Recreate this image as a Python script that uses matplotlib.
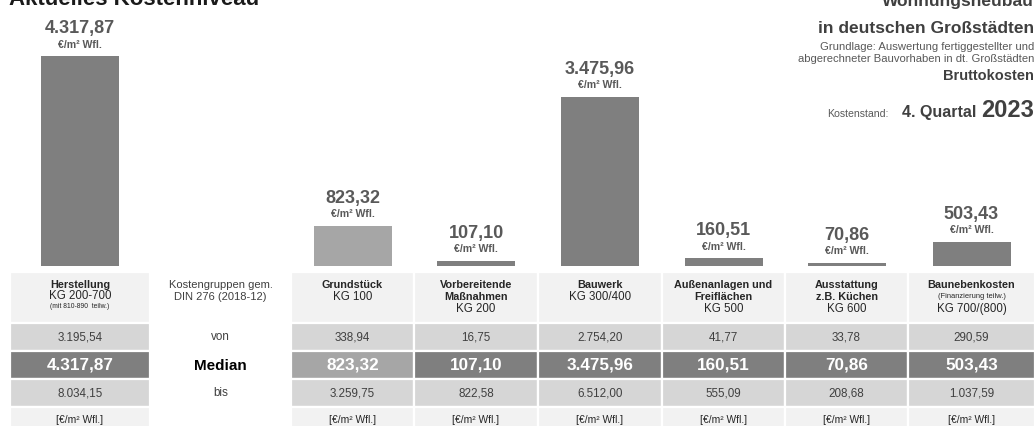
import matplotlib
matplotlib.use("Agg")
import matplotlib.pyplot as plt
from matplotlib.patches import Rectangle

plt.rcParams["font.family"] = ["Liberation Sans", "DejaVu Sans"]

# --- data -------------------------------------------------------------
categories = ["Herstellung", "Grundstück", "Vorbereitende Maßnahmen", "Bauwerk",
              "Außenanlagen und Freiflächen", "Ausstattung", "Baunebenkosten"]
median_vals = [4317.87, 823.32, 107.10, 3475.96, 160.51, 70.86, 503.43]
von_vals = [3195.54, 338.94, 16.75, 2754.20, 41.77, 33.78, 290.59]
bis_vals = [8034.15, 3259.75, 822.58, 6512.00, 555.09, 208.68, 1037.59]

header_text = [
    [("Herstellung", "bold", 7.8), ("KG 200-700", "normal", 8.3), ("(mit 810-890  teilw.)", "normal", 4.9)],
    [("Grundstück", "bold", 7.8), ("KG 100", "normal", 8.3)],
    [("Vorbereitende", "bold", 7.8), ("Maßnahmen", "bold", 7.8), ("KG 200", "normal", 8.3)],
    [("Bauwerk", "bold", 7.8), ("KG 300/400", "normal", 8.3)],
    [("Außenanlagen und", "bold", 7.8), ("Freiflächen", "bold", 7.8), ("KG 500", "normal", 8.3)],
    [("Ausstattung", "bold", 7.8), ("z.B. Küchen", "bold", 7.8), ("KG 600", "normal", 8.3)],
    [("Baunebenkosten", "bold", 7.8), ("(Finanzierung teilw.)", "normal", 5.4), ("KG 700/(800)", "normal", 8.3)],
]
label_col = ["von", "Median", "bis"]


def fmt(v):
    s = f"{v:,.2f}"
    return s.replace(",", "X").replace(".", ",").replace("X", ".")


# --- layout (pixels) --------------------------------------------------
W, H = 1036, 426
col_edges = [10, 150, 291, 414, 538, 662, 785, 908, 1035]
data_cols = [0, 2, 3, 4, 5, 6, 7]
row_edges = [272, 322.5, 350.5, 378.5, 406.5, 430]
baseline = 266
px_per_unit = 210 / 4317.87

dark = "#7f7f7f"
light_bar = "#a6a6a6"
bar_colors = [dark, light_bar, dark, dark, dark, dark, dark]
median_bg = [dark, light_bar, dark, dark, dark, dark, dark]
head_bg = "#f2f2f2"
range_bg = "#d6d6d6"
txt = "#262626"
num_grey = "#595959"

fig = plt.figure(figsize=(W / 100, H / 100), dpi=100, facecolor="white")

# pixel-space axes for table and texts
ax = fig.add_axes([0, 0, 1, 1])
ax.set_xlim(0, W)
ax.set_ylim(H, 0)
ax.axis("off")

# bar axes, value space
bx = fig.add_axes([0, (H - baseline) / H, 1, baseline / H])
bx.set_xlim(0, W)
bx.set_ylim(0, baseline / px_per_unit)
bx.axis("off")
bx.patch.set_alpha(0)

centers = [(col_edges[c] + col_edges[c + 1]) / 2 for c in data_cols]
bx.bar(centers, median_vals, width=78, color=bar_colors, linewidth=0)
for x, v in zip(centers, median_vals):
    bx.annotate(fmt(v), (x, v), xytext=(0, 23), textcoords="offset pixels",
                ha="center", va="baseline", fontsize=13, fontweight="bold", color=num_grey)
    bx.annotate("€/m² Wfl.", (x, v), xytext=(0, 8.5), textcoords="offset pixels",
                ha="center", va="baseline", fontsize=7.6, fontweight="bold", color=num_grey)

# --- table ------------------------------------------------------------
def cell(c, r, color):
    x0, x1 = col_edges[c], col_edges[c + 1]
    y0, y1 = row_edges[r], row_edges[r + 1]
    ax.add_patch(Rectangle((x0, y0), x1 - x0, y1 - y0, facecolor=color,
                           edgecolor="white", linewidth=1.6))


for i, c in enumerate(data_cols):
    cell(c, 0, head_bg)
    cell(c, 1, range_bg)
    cell(c, 2, median_bg[i])
    cell(c, 3, range_bg)
    cell(c, 4, head_bg)
    xc = centers[i]
    lines = header_text[i]
    if i == 0:
        ys = [285, 296, 307]
    elif i == 6:
        ys = [285, 297, 309]
    else:
        ys = [285, 296.5, 308.5]
    for (t, w, s), y in zip(lines, ys):
        ax.text(xc, y, t, ha="center", va="center", fontsize=s, fontweight=w, color=txt)
    ax.text(xc, 337, fmt(von_vals[i]), ha="center", va="center", fontsize=8.4, color="#404040")
    ax.text(xc, 365.5, fmt(median_vals[i]), ha="center", va="center", fontsize=12.3,
            fontweight="bold", color="white")
    ax.text(xc, 393, fmt(bis_vals[i]), ha="center", va="center", fontsize=8.4, color="#404040")
    ax.text(xc, 420, "[€/m² Wfl.]", ha="center", va="center", fontsize=7.4, color=txt)

lx = (col_edges[1] + col_edges[2]) / 2
ax.text(lx, 285, "Kostengruppen gem.", ha="center", va="center", fontsize=8, color="#404040")
ax.text(lx, 296.5, "DIN 276 (2018-12)", ha="center", va="center", fontsize=8, color="#404040")
ax.text(lx, 337, label_col[0], ha="center", va="center", fontsize=8.4, color="#404040")
ax.text(lx, 365.5, label_col[1], ha="center", va="center", fontsize=11, fontweight="bold", color="black")
ax.text(lx, 393, label_col[2], ha="center", va="center", fontsize=8.4, color="#404040")

# --- titles -----------------------------------------------------------
ax.text(9, 5, "Aktuelles Kostenniveau", ha="left", va="baseline", fontsize=16,
        fontweight="bold", color="#1a1a1a")
ax.text(1034, 6, "Wohnungsneubau", ha="right", va="baseline", fontsize=12.5,
        fontweight="bold", color="#404040")
ax.text(1034, 33, "in deutschen Großstädten", ha="right", va="baseline", fontsize=12.5,
        fontweight="bold", color="#404040")
ax.text(1034, 50, "Grundlage: Auswertung fertiggestellter und", ha="right", va="baseline",
        fontsize=8.1, color="#595959")
ax.text(1034, 62, "abgerechneter Bauvorhaben in dt. Großstädten", ha="right", va="baseline",
        fontsize=8.1, color="#595959")
ax.text(1034, 80, "Bruttokosten", ha="right", va="baseline", fontsize=10.5,
        fontweight="bold", color="#404040")
ax.text(1034, 117, "2023", ha="right", va="baseline", fontsize=17,
        fontweight="bold", color="#404040")
ax.text(976, 117, "4. Quartal", ha="right", va="baseline", fontsize=11.5,
        fontweight="bold", color="#404040")
ax.text(888, 117, "Kostenstand:", ha="right", va="baseline", fontsize=7.6, color="#595959")

fig.savefig("out.png", dpi=100, facecolor="white")
